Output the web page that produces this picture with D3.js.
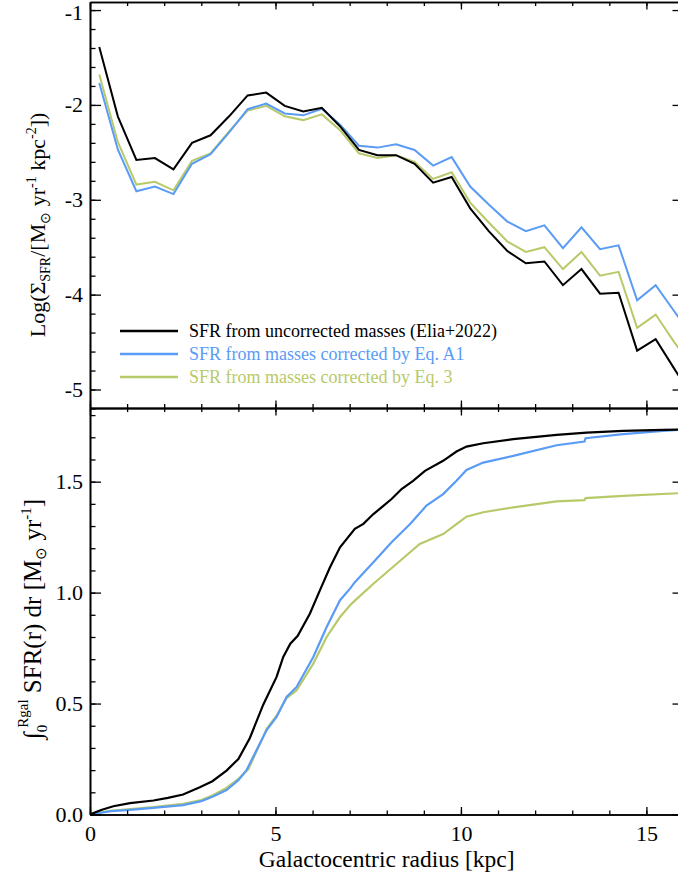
<!DOCTYPE html>
<html>
<head>
<meta charset="utf-8">
<script src="https://cdn.jsdelivr.net/npm/d3@7"></script>
<style>
  body { margin: 0; background: #fff; }
  svg { display: block; }
  text { font-family: "Liberation Serif", "Times New Roman", serif; fill: #000; }
</style>
</head>
<body>
<svg id="chart" width="678" height="879"></svg>
<script>
// radial bins (kpc) of the surface density profile
const binRadius = [0.25, 0.75, 1.25, 1.75, 2.25, 2.75, 3.25, 3.75, 4.25, 4.75, 5.25, 5.75, 6.25, 6.75, 7.25, 7.75,
  8.25, 8.75, 9.25, 9.75, 10.25, 10.75, 11.25, 11.75, 12.25, 12.75, 13.25, 13.75, 14.25, 14.75, 15.25, 15.75, 16.25];

// Log(Sigma_SFR) per bin
const sigmaElia = [-1.39, -2.12, -2.58, -2.56, -2.68, -2.40, -2.32, -2.12, -1.90, -1.87, -2.01, -2.07, -2.03, -2.23,
  -2.475, -2.53, -2.53, -2.62, -2.82, -2.76, -3.09, -3.33, -3.54, -3.67, -3.65, -3.90, -3.73, -3.99, -3.98,
  -4.59, -4.47, -4.78, -5.09];
const sigmaEqA1 = [-1.77, -2.47, -2.91, -2.86, -2.94, -2.62, -2.52, -2.29, -2.045, -1.985, -2.09, -2.11, -2.04, -2.21,
  -2.43, -2.45, -2.415, -2.475, -2.64, -2.55, -2.86, -3.05, -3.23, -3.33, -3.27, -3.51, -3.29, -3.52, -3.48,
  -4.06, -3.90, -4.175, -4.45];
const sigmaEq3 = [-1.68, -2.39, -2.84, -2.81, -2.90, -2.59, -2.51, -2.28, -2.06, -2.01, -2.12, -2.16, -2.10, -2.27,
  -2.51, -2.56, -2.53, -2.60, -2.78, -2.71, -3.03, -3.24, -3.44, -3.55, -3.50, -3.73, -3.55, -3.80, -3.76,
  -4.35, -4.21, -4.50, -4.77];

// cumulative SFR (Msun/yr) vs galactocentric radius
const cumRadiusElia = [0, 0.3, 0.63, 1.08, 1.71, 2.1, 2.51, 2.96, 3.3, 3.68, 4.0, 4.31, 4.67, 5.03, 5.21, 5.4, 5.6,
  5.93, 6.2, 6.47, 6.74, 7.14, 7.37, 7.64, 7.86, 8.13, 8.4, 8.71, 9.03, 9.52, 9.88, 10.15, 10.6, 11.41, 12.58,
  13.39, 14.37, 15.45, 16.0];
const cumElia = [0, 0.02, 0.037, 0.051, 0.063, 0.075, 0.09, 0.123, 0.15, 0.198, 0.25, 0.345, 0.495, 0.62, 0.71,
  0.77, 0.805, 0.906, 1.011, 1.114, 1.204, 1.287, 1.31, 1.354, 1.384, 1.422, 1.467, 1.504, 1.549, 1.594, 1.636,
  1.658, 1.673, 1.692, 1.711, 1.721, 1.729, 1.733, 1.735];
const cumRadiusEqA1 = [0, 0.3, 0.56, 1.0, 1.7, 2.51, 3.0, 3.3, 3.68, 4.0, 4.22, 4.67, 4.76, 5.03, 5.3, 5.57, 6.02,
  6.38, 6.74, 7.01, 7.14, 7.64, 8.13, 8.63, 9.07, 9.52, 9.88, 10.15, 10.6, 11.41, 12.58, 13.33, 13.36, 14.37,
  15.45, 16.0];
const cumEqA1 = [0, 0.008, 0.015, 0.02, 0.03, 0.042, 0.06, 0.08, 0.11, 0.155, 0.20, 0.35, 0.38, 0.44, 0.53, 0.575,
  0.71, 0.845, 0.966, 1.018, 1.047, 1.137, 1.227, 1.309, 1.392, 1.444, 1.504, 1.553, 1.586, 1.616, 1.664, 1.681,
  1.696, 1.714, 1.729, 1.735];
const cumRadiusEq3 = [0, 0.3, 0.56, 1.0, 1.7, 2.51, 3.0, 3.3, 3.68, 4.0, 4.27, 4.67, 4.76, 5.03, 5.3, 5.57, 6.02,
  6.38, 6.74, 7.01, 7.14, 7.64, 8.26, 8.89, 9.52, 9.88, 10.15, 10.6, 11.41, 12.58, 13.33, 13.36, 14.37, 16.0];
const cumEq3 = [0, 0.01, 0.017, 0.023, 0.033, 0.048, 0.065, 0.086, 0.12, 0.16, 0.205, 0.35, 0.385, 0.445, 0.525,
  0.56, 0.68, 0.80, 0.89, 0.943, 0.964, 1.04, 1.129, 1.219, 1.264, 1.309, 1.342, 1.362, 1.384, 1.411, 1.417,
  1.426, 1.436, 1.449];

const seriesNames = ["SFR from uncorrected masses (Elia+2022)", "SFR from masses corrected by Eq. A1",
  "SFR from masses corrected by Eq. 3"];
const seriesColors = ["#000000", "#5a9bf6", "#b7ca6a"];

const xTicks = [0, 5, 10, 15];
const topYTicks = [-5, -4, -3, -2, -1];
const botYTicks = [0.0, 0.5, 1.0, 1.5];

const svg = d3.select("#chart");

const left = 90, right = 683.5;
const topPanel = { top: 2, bottom: 408 };
const botPanel = { top: 408, bottom: 814.5 };

const x = d3.scaleLinear().domain([0, 16]).range([left, right]);
const yTop = d3.scaleLinear().domain([-5.195, -0.915]).range([topPanel.bottom, topPanel.top]);
const yBot = d3.scaleLinear().domain([0, 1.832]).range([botPanel.bottom, botPanel.top]);

const minorX = d3.range(0, 17, 1);

// draws the four framed sides of a panel, ticks pointing inwards
function frame(panel, y, majorY, minorY, labelX, fmtY) {
  const g = svg.append("g");
  const xl = 7.5, xs = 4, yl = 11, ys = 5.5;

  const addAxis = (axis, tr) => {
    const a = g.append("g").attr("transform", tr).call(axis);
    a.select(".domain").attr("stroke-width", 1.6);
    a.selectAll(".tick line").attr("stroke-width", 1.3);
    a.selectAll("text").attr("font-size", 22).attr("font-family", "Liberation Serif, serif").attr("fill", "#000");
    return a;
  };

  addAxis(d3.axisBottom(x).tickValues(minorX).tickSizeInner(-xs).tickSizeOuter(0).tickFormat(""), `translate(0,${panel.bottom})`);
  addAxis(d3.axisBottom(x).tickValues(xTicks).tickSizeInner(-xl).tickSizeOuter(0).tickPadding(11)
    .tickFormat(labelX ? d3.format("d") : ""), `translate(0,${panel.bottom})`);
  addAxis(d3.axisTop(x).tickValues(minorX).tickSizeInner(-xs).tickSizeOuter(0).tickFormat(""), `translate(0,${panel.top})`);
  addAxis(d3.axisTop(x).tickValues(xTicks).tickSizeInner(-xl).tickSizeOuter(0).tickFormat(""), `translate(0,${panel.top})`);

  addAxis(d3.axisLeft(y).tickValues(minorY).tickSizeInner(-ys).tickSizeOuter(0).tickFormat(""), `translate(${left},0)`);
  addAxis(d3.axisLeft(y).tickValues(majorY).tickSizeInner(-yl).tickSizeOuter(0).tickPadding(7).tickFormat(fmtY), `translate(${left},0)`);
  addAxis(d3.axisRight(y).tickValues(minorY).tickSizeInner(-ys).tickSizeOuter(0).tickFormat(""), `translate(${right},0)`);
  addAxis(d3.axisRight(y).tickValues(majorY).tickSizeInner(-yl).tickSizeOuter(0).tickFormat(""), `translate(${right},0)`);
  return g;
}

// clip paths for the two panels
const defs = svg.append("defs");
defs.append("clipPath").attr("id", "clipTop").append("rect")
  .attr("x", left).attr("y", topPanel.top).attr("width", right - left).attr("height", topPanel.bottom - topPanel.top);
defs.append("clipPath").attr("id", "clipBot").append("rect")
  .attr("x", left).attr("y", botPanel.top).attr("width", right - left).attr("height", botPanel.bottom - botPanel.top);

// top panel: surface density profiles
const topLines = [sigmaElia, sigmaEqA1, sigmaEq3];
const lineTop = d3.line().x((d, i) => x(binRadius[i])).y(d => yTop(d));
const gTop = svg.append("g").attr("clip-path", "url(#clipTop)");
// draw black last so it sits on top
[2, 1, 0].forEach(k => {
  gTop.append("path").datum(topLines[k]).attr("d", lineTop)
    .attr("fill", "none").attr("stroke", seriesColors[k]).attr("stroke-width", 2).attr("stroke-linejoin", "miter");
});

// bottom panel: cumulative SFR
const botLines = [[cumRadiusElia, cumElia], [cumRadiusEqA1, cumEqA1], [cumRadiusEq3, cumEq3]];
const gBot = svg.append("g").attr("clip-path", "url(#clipBot)");
[2, 1, 0].forEach(k => {
  const [rr, vv] = botLines[k];
  const line = d3.line().x((d, i) => x(rr[i])).y(d => yBot(d));
  gBot.append("path").datum(vv).attr("d", line)
    .attr("fill", "none").attr("stroke", seriesColors[k]).attr("stroke-width", 2.2);
});

const fTop = frame(topPanel, yTop, topYTicks, d3.range(-5.2, -0.85, 0.2).map(v => +v.toFixed(1)), false, d3.format("d"));
frame(botPanel, yBot, botYTicks, d3.range(0, 1.85, 0.1).map(v => +v.toFixed(1)), true, d3.format(".1f"));

// tick labels use a hyphen-minus like the original
svg.selectAll(".tick text").each(function () {
  const t = d3.select(this);
  t.text(t.text().replace("\u2212", "-"));
});
// keep the "-1" label inside the page
fTop.selectAll(".tick text").filter(d => d === -1).attr("dy", "0.42em");

// legend
const legend = svg.append("g");
seriesNames.forEach((name, i) => {
  const yy = 331 + i * 23;
  legend.append("line").attr("x1", 120).attr("x2", 178).attr("y1", yy).attr("y2", yy)
    .attr("stroke", seriesColors[i]).attr("stroke-width", 2.5);
  legend.append("text").attr("x", 189).attr("y", yy + 6).attr("font-size", 18)
    .style("fill", seriesColors[i]).text(name);
});

// x axis title
svg.append("text").attr("x", (left + right) / 2).attr("y", 867).attr("text-anchor", "middle")
  .attr("font-size", 23.5).text("Galactocentric radius [kpc]");

// y axis title, top panel
const tTop = svg.append("text").attr("transform", "rotate(-90)").attr("x", -225).attr("y", 45)
  .attr("text-anchor", "middle").attr("font-size", 22);
tTop.append("tspan").text("Log(\u03A3");
tTop.append("tspan").attr("dy", 5).attr("font-size", 14).text("SFR");
tTop.append("tspan").attr("dy", -5).text("/[M");
tTop.append("tspan").attr("dy", 5).attr("font-size", 14).text("\u2299");
tTop.append("tspan").attr("dy", -5).text(" yr");
tTop.append("tspan").attr("dy", -9).attr("font-size", 14).text("-1");
tTop.append("tspan").attr("dy", 9).text(" kpc");
tTop.append("tspan").attr("dy", -9).attr("font-size", 14).text("-2");
tTop.append("tspan").attr("dy", 9).text("])");

// y axis title, bottom panel
const tBot = svg.append("text").attr("transform", "rotate(-90)").attr("x", -619).attr("y", 41)
  .attr("text-anchor", "middle").attr("font-size", 25);
tBot.append("tspan").text("\u222B");
tBot.append("tspan").attr("dy", 6).attr("font-size", 15).text("0");
tBot.append("tspan").attr("dx", -3).attr("dy", -19).attr("font-size", 15).text("Rgal");
tBot.append("tspan").attr("dy", 13).text(" SFR(r) dr [M");
tBot.append("tspan").attr("dy", 5).attr("font-size", 15).text("\u2299");
tBot.append("tspan").attr("dy", -5).text(" yr");
tBot.append("tspan").attr("dy", -10).attr("font-size", 15).text("-1");
tBot.append("tspan").attr("dy", 10).text("]");
</script>
</body>
</html>
